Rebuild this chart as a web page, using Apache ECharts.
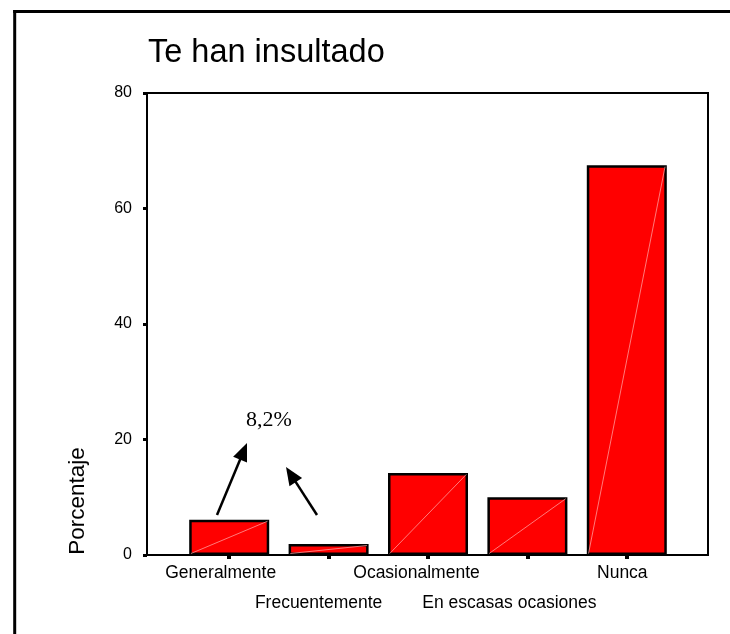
<!DOCTYPE html>
<html>
<head>
<meta charset="utf-8">
<script src="https://cdn.jsdelivr.net/npm/echarts@6/dist/echarts.min.js"></script>
<style>
html,body{margin:0;padding:0;background:#fff;}
#chart{width:730px;height:634px;}
</style>
</head>
<body>
<div id="chart"></div>
<script>
const titleText = 'Te han insultado';
const yAxisTitle = 'Porcentaje';
const categories = ['Generalmente', 'Frecuentemente', 'Ocasionalmente', 'En escasas ocasiones', 'Nunca'];
const values = [6.1, 1.9, 14.2, 10.0, 67.5];
const yMin = 0, yMax = 80, yInterval = 20;
const annotationText = '8,2%';

const labelShift = [17, 20, 23, 36, 9];

function arrow(tail, tip) {
  const dx = tip[0] - tail[0], dy = tip[1] - tail[1];
  const len = Math.sqrt(dx * dx + dy * dy);
  const ux = dx / len, uy = dy / len;
  const hl = 18, hw = 7.5;
  const bx = tip[0] - hl * ux, by = tip[1] - hl * uy;
  const px = -uy, py = ux;
  return [
    { type: 'line', shape: { x1: tail[0], y1: tail[1], x2: bx + 2 * ux, y2: by + 2 * uy }, style: { stroke: '#000', lineWidth: 2.5 }, z: 100 },
    { type: 'polygon', shape: { points: [[tip[0], tip[1]], [bx + hw * px, by + hw * py], [bx - hw * px, by - hw * py]] }, style: { fill: '#000' }, z: 100 }
  ];
}

const rich = {};
labelShift.forEach((s, i) => {
  rich['r' + i] = { fontFamily: 'Liberation Sans, Arial, sans-serif', fontSize: 17.5, color: '#000', lineHeight: 30, padding: [0, s, 0, 0] };
});

const chart = echarts.init(document.getElementById('chart'));
chart.setOption({
  animation: false,
  backgroundColor: '#fff',
  title: {
    text: titleText,
    left: 143,
    top: 32,
    textStyle: { fontFamily: 'Liberation Sans, Arial, sans-serif', fontSize: 32.5, fontWeight: 'normal', color: '#000' }
  },
  grid: [
    { left: 147, top: 93, width: 561, height: 462, show: true, borderColor: '#000', borderWidth: 2, backgroundColor: 'transparent', z: 10 },
    { left: 179.5, top: 93, width: 497, height: 462 }
  ],
  xAxis: [
    { gridIndex: 0, type: 'value', show: false, min: 0, max: 1 },
    {
      gridIndex: 1, type: 'category', data: categories,
      axisLine: { show: false },
      axisTick: { show: true, alignWithLabel: true, length: 4, lineStyle: { color: '#000', width: 4 } },
      axisLabel: {
        interval: 0, margin: 3, lineHeight: 30,
        fontFamily: 'Liberation Sans, Arial, sans-serif', fontSize: 17.5, color: '#000',
        formatter: (v, i) => (i % 2 ? '\n' : '') + '{r' + i + '|' + v + '}',
        rich: rich
      }
    }
  ],
  yAxis: [
    {
      gridIndex: 0, type: 'value', min: yMin, max: yMax, interval: yInterval,
      axisLine: { show: true, lineStyle: { color: '#000', width: 2 } },
      axisTick: { show: true, length: 4, lineStyle: { color: '#000', width: 3 } },
      axisLabel: { margin: 15, fontFamily: 'Liberation Sans, Arial, sans-serif', fontSize: 16, color: '#000' },
      splitLine: { show: false }
    },
    { gridIndex: 1, type: 'value', min: yMin, max: yMax, interval: yInterval, show: false, splitLine: { show: false } }
  ],
  series: [
    {
      type: 'bar', xAxisIndex: 1, yAxisIndex: 1, data: values, barWidth: 80,
      itemStyle: { color: '#ff0000', borderColor: '#000', borderWidth: 2.5 },
      z: 2
    },
    {
      type: 'custom', xAxisIndex: 1, yAxisIndex: 1,
      data: values.map((v, i) => [i, v]),
      z: 3, silent: true,
      renderItem: function (params, api) {
        const p0 = api.coord([api.value(0), 0]);
        const p1 = api.coord([api.value(0), api.value(1)]);
        const hw = api.size([1, 0])[0] * 0.8 / 2 - 1.5;
        return {
          type: 'line',
          shape: { x1: p0[0] - hw, y1: p0[1] - 1.5, x2: p1[0] + hw, y2: p1[1] + 1.5 },
          style: { stroke: 'rgba(255,170,170,0.9)', lineWidth: 0.8 }
        };
      }
    }
  ],
  graphic: [
    { type: 'line', shape: { x1: 14.7, y1: 10, x2: 14.7, y2: 634 }, style: { stroke: '#000', lineWidth: 3 } },
    { type: 'line', shape: { x1: 13.2, y1: 11.5, x2: 730, y2: 11.5 }, style: { stroke: '#000', lineWidth: 3 } },
    {
      type: 'text', x: 78, y: 501, rotation: Math.PI / 2,
      style: { text: yAxisTitle, fontFamily: 'Liberation Sans, Arial, sans-serif', fontSize: 22.5, fill: '#000', align: 'center', verticalAlign: 'middle' }
    },
    {
      type: 'text', x: 269, y: 420,
      style: { text: annotationText, fontFamily: 'Liberation Serif, Times New Roman, serif', fontSize: 22, fill: '#000', align: 'center', verticalAlign: 'middle' }
    },
    ...arrow([217, 515], [247, 443]),
    ...arrow([317, 515], [286, 467])
  ]
});
</script>
</body>
</html>
